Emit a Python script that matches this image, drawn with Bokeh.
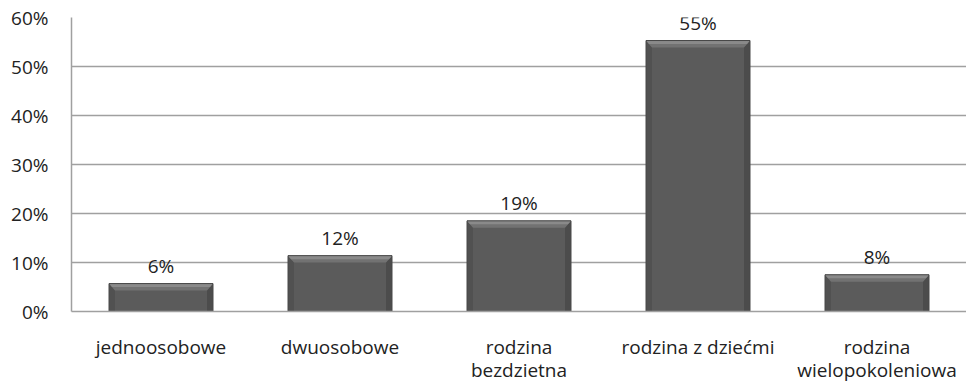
from bokeh.plotting import figure
from bokeh.models import FixedTicker, Range1d, ColumnDataSource, LinearAxis
from bokeh.embed import file_html
from bokeh.resources import INLINE
from bokeh.core.properties import value

categories = ["jednoosobowe", "dwuosobowe", "rodzina\nbezdzietna", "rodzina z dziećmi", "rodzina\nwielopokoleniowa"]
values = [5.7, 11.4, 18.5, 55.3, 7.5]
value_labels = ["6%", "12%", "19%", "55%", "8%"]
y_ticks = [0, 10, 20, 30, 40, 50, 60]

FONT = "Open Sans"
FS = "19px"
TXT = "#222222"
GRID = "#a0a0a0"
W, H = 966, 385
ML, MT, MB = 71, 17, 73
CAT_PX = 179.0
frame_w = W - ML
frame_h = H - MT - MB
px_per_y = frame_h / 60.0

p = figure(width=W, height=H, output_backend="svg", toolbar_location=None,
           x_range=Range1d(0, frame_w / CAT_PX), y_range=Range1d(0, 60),
           min_border_left=ML, min_border_right=0, min_border_top=MT, min_border_bottom=MB)
p.outline_line_color = None
p.background_fill_color = "white"
p.border_fill_color = "white"

centers = [i + 0.5 for i in range(len(categories))]
hw = 104 / CAT_PX / 2
dx = 6 / CAT_PX
dy = 7 / px_per_y

x0 = [c - hw for c in centers]
x1 = [c + hw for c in centers]

# main bar body
p.quad(left=x0, right=x1, bottom=0, top=values, fill_color="#5b5b5b", line_color=None)
# side bevels
p.patches(xs=[[a, a + dx, a + dx, a] for a in x0],
          ys=[[v, v - dy, 0, 0] for v in values],
          fill_color="#515151", line_color=None)
p.patches(xs=[[b, b - dx, b - dx, b] for b in x1],
          ys=[[v, v - dy, 0, 0] for v in values],
          fill_color="#4c4c4c", line_color=None)
# top bevel (two tones)
p.patches(xs=[[a, b, b - dx, a + dx] for a, b in zip(x0, x1)],
          ys=[[v, v, v - dy, v - dy] for v in values],
          fill_color="#727272", line_color=None)
p.patches(xs=[[a, b, b - dx / 2, a + dx / 2] for a, b in zip(x0, x1)],
          ys=[[v, v, v - dy / 2, v - dy / 2] for v in values],
          fill_color="#8a8a8a", line_color=None)
p.quad(left=x0, right=x1, bottom=0, top=values, fill_color=None,
       line_color="#484848", line_width=1)

src = ColumnDataSource(dict(x=centers, y=values, t=value_labels))
p.text(x="x", y="y", text="t", source=src, text_align="center", text_baseline="bottom",
       y_offset=-5, text_font=value(FONT), text_font_size=FS, text_color=TXT)

# category labels: first lines on the main x axis, second lines on an extra axis below
lines = [lab.split("\n") for lab in categories]
p.xaxis.ticker = FixedTicker(ticks=centers)
p.xaxis.major_label_overrides = {c: ln[0] for c, ln in zip(centers, lines)}
second = [(c, ln[1]) for c, ln in zip(centers, lines) if len(ln) > 1]
ax2 = LinearAxis(ticker=FixedTicker(ticks=[c for c, _ in second]),
                 major_label_overrides={c: t for c, t in second})
ax2.axis_line_color = None
p.add_layout(ax2, "below")

p.yaxis.ticker = FixedTicker(ticks=y_ticks)
p.yaxis.major_label_overrides = {t: f"{t}%" for t in y_ticks}

for ax in (p.xaxis[0], ax2, p.yaxis[0]):
    ax.major_tick_line_color = None
    ax.minor_tick_line_color = None
    ax.major_label_text_font = FONT
    ax.major_label_text_font_size = FS
    ax.major_label_text_color = TXT
for ax in (p.xaxis[0], p.yaxis[0]):
    ax.axis_line_color = GRID
    ax.axis_line_width = 1.5
p.yaxis.major_label_standoff = 17
p.xaxis[0].major_label_standoff = 16
ax2.major_label_standoff = -12

p.xgrid.grid_line_color = None
p.ygrid.ticker = FixedTicker(ticks=y_ticks)
p.ygrid.grid_line_color = GRID
p.ygrid.grid_line_width = 1.5

open("out.html", "w").write(file_html(p, INLINE))
